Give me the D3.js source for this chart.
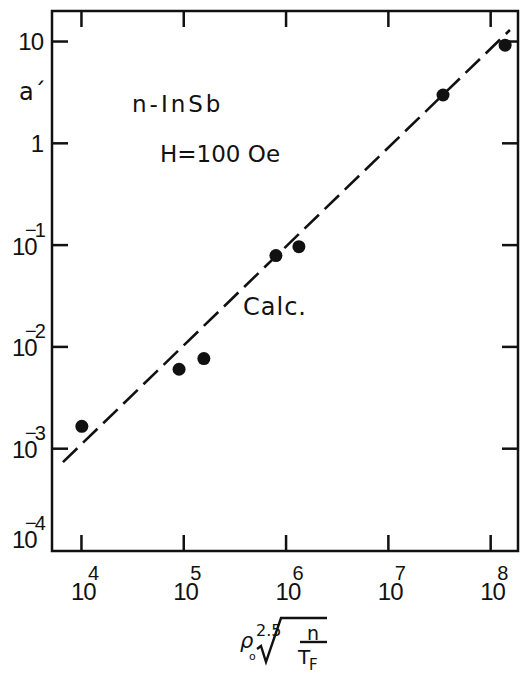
<!DOCTYPE html>
<html>
<head>
<meta charset="utf-8">
<script src="https://cdn.jsdelivr.net/npm/d3@7"></script>
<style>
  body { margin: 0; background: #fff; }
  svg text { fill: #111; }
</style>
</head>
<body>
<svg id="chart" width="521" height="675"></svg>
<script>
// measured points (x = rho0^2.5 sqrt(n/T_F), y = a')
const xVals = [1.02e4, 9.1e4, 1.59e5, 8.05e5, 1.35e6, 3.46e7, 1.40e8];
const yVals = [1.64e-3, 5.96e-3, 7.6e-3, 7.8e-2, 9.55e-2, 2.95, 9.1];

// calculated line ("Calc.")
const calcX = [10 ** 3.824, 10 ** 8.193];
const calcY = [10 ** -3.137, 10 ** 1.108];

const xTicks = [1e4, 1e5, 1e6, 1e7, 1e8];
const xExps = ['4', '5', '6', '7', '8'];
const yTicks = [10, 1, 1e-1, 1e-2, 1e-3, 1e-4];
const yExps = [null, null, '\u22121', '\u22122', '\u22123', '\u22124'];

function zip(a, b) {
    return a.map(function(e, i) { return [e, b[i]]; });
}

const svg = d3.select('#chart');
const plotL = 52, plotR = 518, plotT = 11, plotB = 551;

const x = d3.scaleLog().domain([10 ** 3.717, 10 ** 8.272]).range([plotL, plotR]);
const y = d3.scaleLog().domain([10 ** -4.01, 10 ** 1.295]).range([plotB, plotT]);

const ink = '#111';
const tickLen = 16;

// frame
svg.append('rect')
    .attr('x', plotL).attr('y', plotT)
    .attr('width', plotR - plotL).attr('height', plotB - plotT)
    .attr('fill', 'none').attr('stroke', ink).attr('stroke-width', 2.5);

// inward ticks on all four sides
function styleAxis(g) {
    g.select('.domain').remove();
    g.selectAll('.tick line').attr('stroke', ink).attr('stroke-width', 2.5);
    g.selectAll('.tick text').remove();
}

svg.append('g').attr('transform', 'translate(0,' + plotB + ')')
    .call(d3.axisBottom(x).tickValues(xTicks).tickSize(-tickLen)).call(styleAxis);
svg.append('g').attr('transform', 'translate(0,' + plotT + ')')
    .call(d3.axisTop(x).tickValues(xTicks).tickSize(-tickLen)).call(styleAxis);
svg.append('g').attr('transform', 'translate(' + plotL + ',0)')
    .call(d3.axisLeft(y).tickValues(yTicks.slice(0, 5)).tickSize(-tickLen)).call(styleAxis);
svg.append('g').attr('transform', 'translate(' + plotR + ',0)')
    .call(d3.axisRight(y).tickValues(yTicks.slice(0, 5)).tickSize(-tickLen)).call(styleAxis);

// tick labels: "10" with the exponent set above its right half
const tickFont = "'Liberation Sans', Arial, sans-serif";

const xl = svg.append('g').attr('font-family', tickFont);
xTicks.forEach((t, i) => {
    xl.append('text')
        .attr('x', x(t) - 10).attr('y', 600)
        .attr('font-size', 24).attr('letter-spacing', -1)
        .text('10');
    xl.append('text')
        .attr('x', x(t) + 7).attr('y', 580)
        .attr('font-size', 20)
        .text(xExps[i]);
});

const yl = svg.append('g').attr('font-family', tickFont);
yTicks.forEach((t, i) => {
    const ty = y(t);
    if (yExps[i] === null) {
        yl.append('text')
            .attr('x', 43).attr('y', ty + 9)
            .attr('text-anchor', 'end')
            .attr('font-size', 24).attr('letter-spacing', -1)
            .text(t === 10 ? '10' : '1');
    } else {
        const shift = t === 1e-4 ? -12 : 0;
        yl.append('text')
            .attr('x', 12).attr('y', ty + 10 + shift)
            .attr('font-size', 24).attr('letter-spacing', -1)
            .text('10');
        yl.append('text')
            .attr('x', 25).attr('y', ty - 8 + shift)
            .attr('font-size', 20).attr('letter-spacing', -2)
            .text(yExps[i]);
    }
});

// y axis title
svg.append('text')
    .attr('x', 19).attr('y', 100)
    .attr('font-family', "'DejaVu Sans', sans-serif")
    .attr('font-size', 24)
    .text('a\u00b4');

// calculated dashed line
const line = d3.line().x(d => x(d[0])).y(d => y(d[1]));
svg.append('path')
    .datum(zip(calcX, calcY))
    .attr('d', line)
    .attr('fill', 'none')
    .attr('stroke', ink)
    .attr('stroke-width', 2.6)
    .attr('stroke-dasharray', '20,8');

// data points
svg.selectAll('circle.pt')
    .data(zip(xVals, yVals))
    .enter()
    .append('circle')
    .attr('class', 'pt')
    .attr('cx', d => x(d[0]))
    .attr('cy', d => y(d[1]))
    .attr('r', 6.5)
    .attr('fill', ink);

// annotations
const annFont = "'DejaVu Sans', sans-serif";
svg.append('text').attr('x', 132).attr('y', 112)
    .attr('font-family', annFont).attr('font-size', 23).attr('letter-spacing', 3)
    .text('n-InSb');
svg.append('text').attr('x', 160).attr('y', 162)
    .attr('font-family', annFont).attr('font-size', 23)
    .text('H=100 Oe');
svg.append('text').attr('x', 243).attr('y', 315)
    .attr('font-family', annFont).attr('font-size', 24).attr('letter-spacing', 1)
    .text('Calc.');

// x axis title: rho0^2.5 sqrt(n / T_F)
const xt = svg.append('g').attr('font-family', annFont);
xt.append('text').attr('x', 240).attr('y', 648).attr('font-size', 21)
    .attr('font-style', 'italic').text('\u03c1');
xt.append('text').attr('x', 249).attr('y', 660).attr('font-size', 11).text('o');
xt.append('text').attr('x', 256).attr('y', 636).attr('font-size', 16).text('2.5');
xt.append('path')
    .attr('d', 'M257,649 L261,646 L266,662 L281,618 L327,618')
    .attr('fill', 'none').attr('stroke', ink).attr('stroke-width', 2.4);
xt.append('text').attr('x', 313).attr('y', 640).attr('font-size', 19)
    .attr('text-anchor', 'middle').text('n');
xt.append('line')
    .attr('x1', 300).attr('x2', 327).attr('y1', 642).attr('y2', 642)
    .attr('stroke', ink).attr('stroke-width', 2.4);
xt.append('text').attr('x', 298).attr('y', 664).attr('font-size', 20).text('T');
xt.append('text').attr('x', 309).attr('y', 670).attr('font-size', 15).text('F');
</script>
</body>
</html>
